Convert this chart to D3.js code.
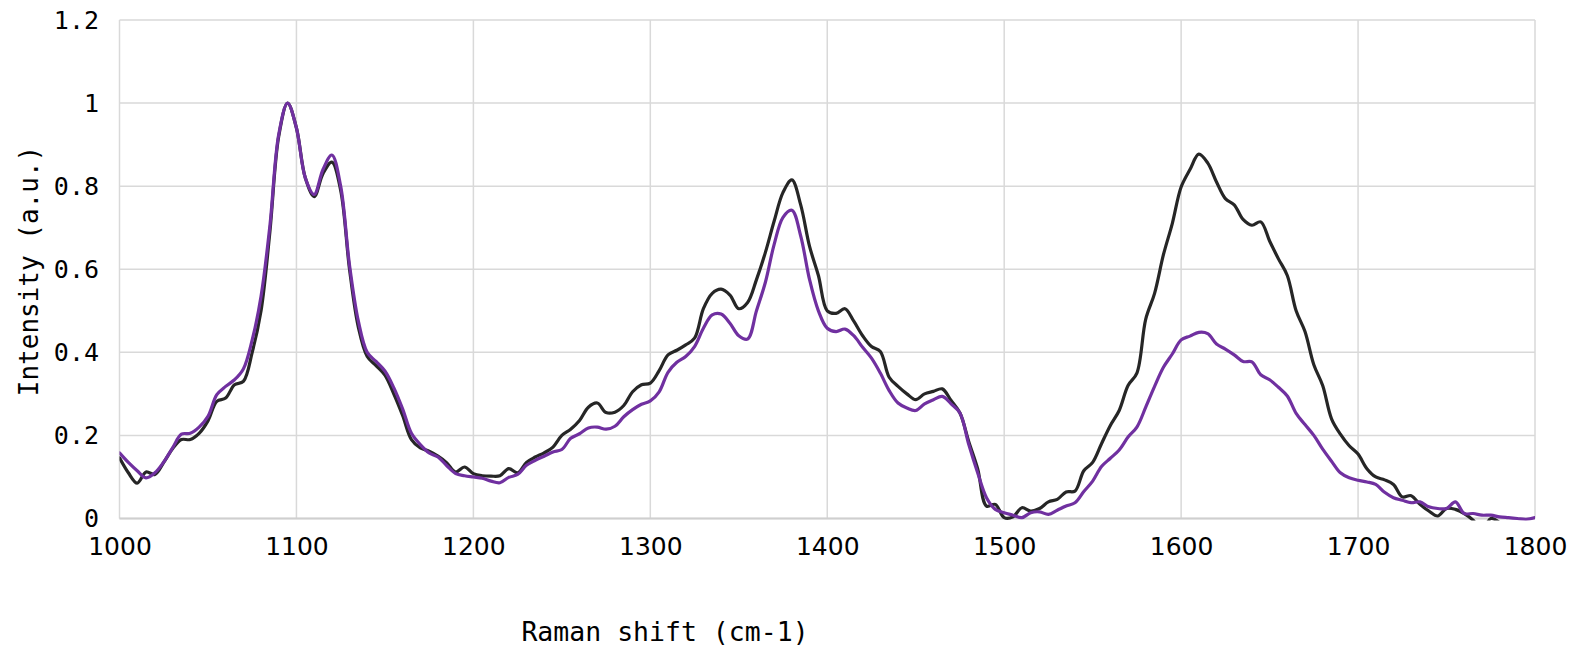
<!DOCTYPE html>
<html>
<head>
<meta charset="utf-8">
<script src="https://cdn.jsdelivr.net/npm/d3@7"></script>
<style>
  html, body { margin: 0; padding: 0; background: #fff; }
  svg { display: block; }
</style>
</head>
<body>
<svg id="chart" width="1585" height="649"></svg>
<script>
// Raman shift (cm-1), step 5 from 1000 to 1800
const shifts = d3.range(1000, 1801, 5);

const seriesBlack = [
  0.146, 0.110, 0.085, 0.112, 0.106, 0.135, 0.168, 0.190, 0.190, 0.205,
  0.235, 0.282, 0.290, 0.322, 0.330, 0.400, 0.500, 0.690, 0.920, 1.000,
  0.940, 0.820, 0.775, 0.830, 0.858, 0.790, 0.600, 0.460, 0.390, 0.368,
  0.345, 0.300, 0.248, 0.190, 0.170, 0.162, 0.150, 0.134, 0.112, 0.124,
  0.108, 0.103, 0.102, 0.103, 0.120, 0.110, 0.135, 0.148, 0.158, 0.172,
  0.200, 0.215, 0.236, 0.268, 0.278, 0.255, 0.256, 0.272, 0.305, 0.322,
  0.326, 0.356, 0.394, 0.405, 0.418, 0.434, 0.505, 0.542, 0.552, 0.538,
  0.505, 0.520, 0.575, 0.640, 0.716, 0.785, 0.815, 0.755, 0.655, 0.585,
  0.500, 0.494, 0.505, 0.475, 0.440, 0.414, 0.402, 0.340, 0.318, 0.300,
  0.286, 0.300, 0.306, 0.312, 0.284, 0.254, 0.185, 0.120, 0.030, 0.034,
  0.002, 0.004, 0.026, 0.018, 0.024, 0.040, 0.046, 0.064, 0.066, 0.115,
  0.135, 0.180, 0.224, 0.260, 0.320, 0.350, 0.480, 0.542, 0.635, 0.710,
  0.798, 0.840, 0.877, 0.856, 0.810, 0.770, 0.755, 0.720, 0.706, 0.714,
  0.668, 0.625, 0.585, 0.500, 0.450, 0.370, 0.320, 0.240, 0.203, 0.175,
  0.155, 0.120, 0.100, 0.093, 0.082, 0.052, 0.055, 0.034, 0.018, 0.006,
  0.024, 0.022, 0.012, -0.004, -0.030, 0.000, -0.010, -0.030, -0.040, -0.040,
  -0.040
];

const seriesPurple = [
  0.158, 0.135, 0.115, 0.098, 0.110, 0.136, 0.170, 0.203, 0.205, 0.220,
  0.246, 0.298, 0.318, 0.334, 0.360, 0.430, 0.535, 0.705, 0.925, 1.000,
  0.940, 0.820, 0.780, 0.840, 0.875, 0.800, 0.610, 0.475, 0.400, 0.378,
  0.355, 0.315, 0.264, 0.205, 0.178, 0.158, 0.148, 0.127, 0.108, 0.103,
  0.100, 0.097, 0.090, 0.086, 0.099, 0.106, 0.128, 0.140, 0.150, 0.160,
  0.166, 0.193, 0.204, 0.218, 0.220, 0.215, 0.222, 0.245, 0.262, 0.275,
  0.283, 0.305, 0.352, 0.376, 0.390, 0.414, 0.458, 0.490, 0.492, 0.470,
  0.440, 0.432, 0.500, 0.568, 0.660, 0.725, 0.742, 0.680, 0.575, 0.500,
  0.458, 0.450, 0.456, 0.440, 0.412, 0.386, 0.350, 0.308, 0.278, 0.266,
  0.260, 0.276, 0.286, 0.294, 0.276, 0.254, 0.178, 0.110, 0.050, 0.022,
  0.014, 0.008, 0.002, 0.014, 0.016, 0.010, 0.020, 0.030, 0.038, 0.065,
  0.090, 0.125, 0.145, 0.165, 0.196, 0.220, 0.268, 0.318, 0.364, 0.396,
  0.430, 0.439, 0.448, 0.445, 0.420, 0.408, 0.394, 0.378, 0.377, 0.346,
  0.334, 0.316, 0.295, 0.253, 0.226, 0.200, 0.167, 0.138, 0.110, 0.098,
  0.092, 0.088, 0.082, 0.063, 0.050, 0.044, 0.038, 0.040, 0.028, 0.024,
  0.024, 0.040, 0.012, 0.012, 0.008, 0.008, 0.004, 0.002, 0.000, -0.002,
  0.002
];

const xTicks = [1000, 1100, 1200, 1300, 1400, 1500, 1600, 1700, 1800];
const yTicks = [0, 0.2, 0.4, 0.6, 0.8, 1, 1.2];
const yTickLabels = ["0", "0.2", "0.4", "0.6", "0.8", "1", "1.2"];

(function () {
const svg = d3.select("#chart");
const pLeft = 119.5, pRight = 1535, pTop = 20, pBottom = 518.5;

const x = d3.scaleLinear().domain([1000, 1800]).range([pLeft, pRight]);
const y = d3.scaleLinear().domain([0, 1.2]).range([pBottom, pTop]);

// gridlines
const grid = svg.append("g");
grid.selectAll("line.h").data(yTicks).join("line").attr("class", "h")
  .attr("x1", pLeft).attr("x2", pRight)
  .attr("y1", d => y(d)).attr("y2", d => y(d))
  .attr("stroke", "#d9d9d9").attr("stroke-width", 1.5);
grid.selectAll("line.v").data(xTicks).join("line").attr("class", "v")
  .attr("x1", d => x(d)).attr("x2", d => x(d))
  .attr("y1", pTop).attr("y2", pBottom)
  .attr("stroke", "#d9d9d9").attr("stroke-width", 1.5);

// axis line
svg.append("line").attr("x1", pLeft).attr("x2", pRight).attr("y1", pBottom).attr("y2", pBottom)
  .attr("stroke", "#cfcfcf").attr("stroke-width", 2);

// axes via d3 (labels only)
const xAxis = d3.axisBottom(x).tickValues(xTicks).tickSize(0).tickFormat(d3.format("d"));
const gx = svg.append("g").attr("transform", `translate(0,${pBottom})`).call(xAxis);
gx.select(".domain").remove();
gx.selectAll("text")
  .attr("dy", null).attr("y", 36.5)
  .style("font-family", "'DejaVu Sans', Verdana, sans-serif")
  .style("font-size", "25px").attr("fill", "#000");

const yAxis = d3.axisLeft(y).tickValues(yTicks).tickSize(0)
  .tickFormat((d, i) => yTickLabels[i]);
const gy = svg.append("g").attr("transform", `translate(${pLeft},0)`).call(yAxis);
gy.select(".domain").remove();
gy.selectAll("text")
  .attr("x", -20.5)
  .style("font-family", "'DejaVu Sans Mono', monospace")
  .style("font-size", "25px").attr("fill", "#000");

// clip
svg.append("defs").append("clipPath").attr("id", "plotclip")
  .append("rect").attr("x", pLeft).attr("y", pTop - 5)
  .attr("width", pRight - pLeft).attr("height", pBottom - pTop + 7);

const line = d3.line()
  .x(d => x(d[0])).y(d => y(d[1]))
  .curve(d3.curveCatmullRom.alpha(0.5));

const plot = svg.append("g").attr("clip-path", "url(#plotclip)");
plot.append("path")
  .datum(shifts.map((s, i) => [s, seriesBlack[i]]))
  .attr("d", line).attr("fill", "none")
  .attr("stroke", "#262626").attr("stroke-width", 3.2)
  .attr("stroke-linejoin", "round").attr("stroke-linecap", "round");
plot.append("path")
  .datum(shifts.map((s, i) => [s, seriesPurple[i]]))
  .attr("d", line).attr("fill", "none")
  .attr("stroke", "#7030a0").attr("stroke-width", 3.2)
  .attr("stroke-linejoin", "round").attr("stroke-linecap", "round");

// titles
svg.append("text")
  .attr("x", 665).attr("y", 641)
  .attr("text-anchor", "middle")
  .style("font-family", "'DejaVu Sans Mono', monospace")
  .style("font-size", "26.5px").attr("fill", "#000")
  .text("Raman shift (cm-1)");

svg.append("text")
  .attr("transform", "translate(38,271) rotate(-90)")
  .attr("text-anchor", "middle")
  .style("font-family", "'DejaVu Sans Mono', monospace")
  .style("font-size", "26px").attr("fill", "#000")
  .text("Intensity (a.u.)");
})();
</script>
</body>
</html>
